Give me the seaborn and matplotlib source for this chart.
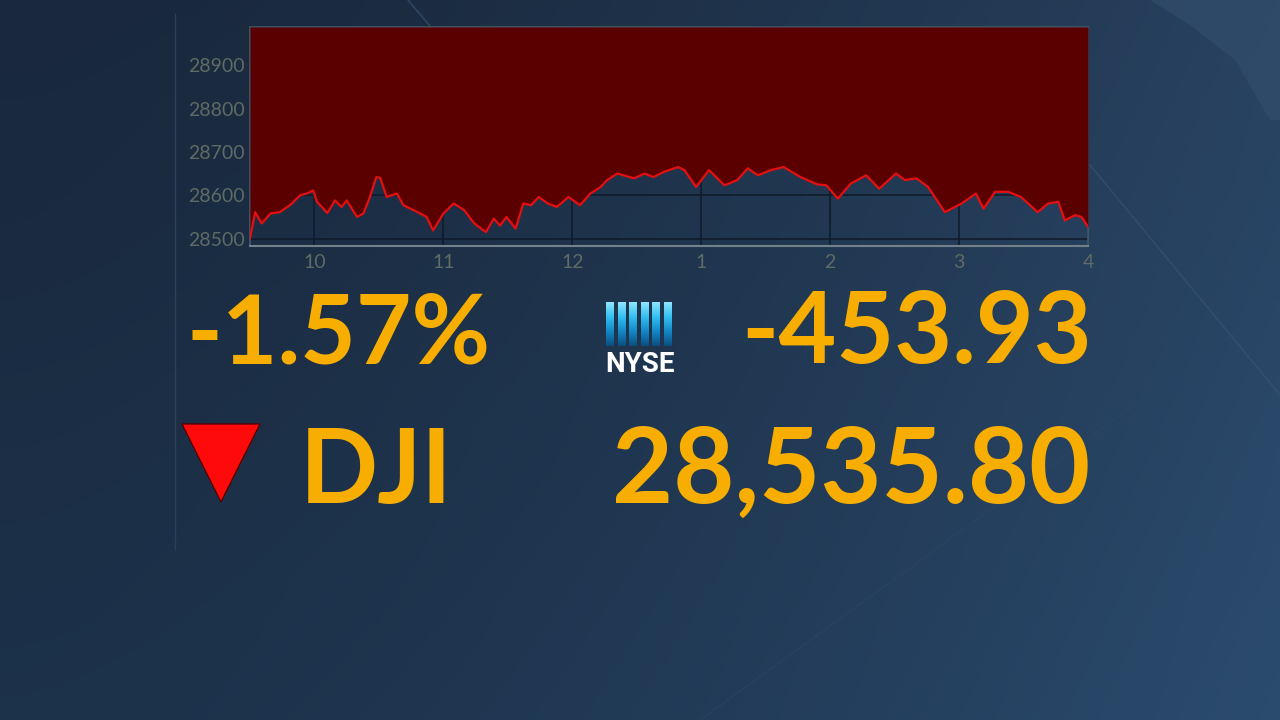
import numpy as np
import pandas as pd
import matplotlib
matplotlib.use('Agg')
import matplotlib.pyplot as plt
import seaborn as sns
from matplotlib.patches import Polygon
from matplotlib.colors import LinearSegmentedColormap

# intraday DJI, hours since midnight (9.5 = 9:30 open, 16 = 4pm close)
hours = [9.50, 9.54, 9.59, 9.66, 9.73, 9.81, 9.89, 9.94, 9.99, 10.02, 10.10, 10.16,
         10.21, 10.25, 10.33, 10.38, 10.43, 10.48, 10.51, 10.56, 10.64, 10.69, 10.80,
         10.87, 10.92, 11.00, 11.08, 11.16, 11.24, 11.33, 11.39, 11.44, 11.49, 11.56,
         11.62, 11.68, 11.74, 11.81, 11.88, 11.97, 12.06, 12.14, 12.22, 12.27, 12.35,
         12.48, 12.56, 12.63, 12.71, 12.82, 12.87, 12.96, 13.06, 13.18, 13.28, 13.36,
         13.44, 13.54, 13.64, 13.77, 13.90, 13.97, 14.06, 14.16, 14.28, 14.38, 14.51,
         14.58, 14.67, 14.76, 14.89, 15.02, 15.13, 15.19, 15.28, 15.38, 15.48, 15.61,
         15.69, 15.77, 15.82, 15.90, 15.95, 16.00]
dji = [28500, 28561, 28535, 28558, 28561, 28577, 28600, 28604, 28611, 28585, 28559, 28588,
       28573, 28588, 28550, 28558, 28596, 28642, 28640, 28596, 28604, 28577, 28561,
       28550, 28519, 28558, 28581, 28566, 28535, 28515, 28546, 28530, 28550, 28523,
       28581, 28577, 28596, 28581, 28573, 28596, 28577, 28604, 28619, 28635, 28650,
       28639, 28650, 28642, 28654, 28665, 28658, 28619, 28658, 28623, 28635, 28662,
       28646, 28658, 28665, 28642, 28625, 28623, 28592, 28627, 28646, 28615, 28650,
       28635, 28639, 28619, 28561, 28581, 28604, 28569, 28608, 28608, 28596, 28561,
       28581, 28585, 28542, 28554, 28550, 28527]

hour_ticks = [10, 11, 12, 13, 14, 15, 16]
hour_labels = ['10', '11', '12', '1', '2', '3', '4']
price_ticks = [28500, 28600, 28700, 28800, 28900]

pct_change = '-1.57%'
pt_change = '-453.93'
index_name = 'DJI'
last_value = '28,535.80'
exchange = 'NYSE'

df = pd.DataFrame({'hour': hours, 'dji': dji})

sns.set_theme(style='dark')
plt.rcParams['font.family'] = ['Lato', 'DejaVu Sans']

orange = '#f7ae00'
y_top, y_bot = 28988, 28483

fig = plt.figure(figsize=(12.8, 7.2), dpi=100)

# backdrop: dark navy gradient
bg = fig.add_axes([0, 0, 1, 1], zorder=0)
yy, xx = np.mgrid[0:1:180j, 0:1:320j]
tl = np.array([25, 40, 60]) / 255
rt = np.array([40, 66, 96]) / 255
bt = np.array([29, 52, 78]) / 255
img = tl + (rt - tl) * (xx[..., None] ** 1.6) + (bt - tl) * (yy[..., None] * 0.8)
bg.imshow(np.clip(img, 0, 1), extent=(0, 1280, 720, 0), aspect='auto')
bg.set_xlim(0, 1280)
bg.set_ylim(720, 0)
bg.plot([175, 175], [14, 550], color='#2b405a', lw=1)
bg.plot([1090, 1280], [165, 395], color='#3b5878', lw=1.2, alpha=0.5)
bg.plot([700, 1280], [720, 300], color='#2f4a68', lw=1, alpha=0.4)
bg.plot([408, 430], [0, 26], color='#3a5676', lw=1.2, alpha=0.6)
bg.add_patch(Polygon([(1150, 0), (1280, 0), (1280, 120), (1270, 120), (1235, 60), (1190, 25)],
                     fc='#34506f', ec='none', alpha=0.6))
bg.axis('off')

# intraday chart
ax = fig.add_axes([250 / 1280, 1 - 246 / 720, 838 / 1280, 219 / 720], zorder=2)
ax.set_facecolor('none')
ax.fill_between(df['hour'], df['dji'], y_top, color='#5a0000', lw=0, zorder=3)
sns.lineplot(data=df, x='hour', y='dji', color='#e41010', lw=1.6, ax=ax, zorder=4)
ax.set_xlim(9.5, 16)
ax.set_ylim(y_bot, y_top)
ax.set_xticks(hour_ticks)
ax.set_xticklabels(hour_labels)
ax.set_yticks(price_ticks)
ax.set_xlabel('')
ax.set_ylabel('')
ax.grid(True, color='#0f1a29', lw=1.1)
ax.set_axisbelow(True)
ax.tick_params(length=0, labelsize=14, colors='#5f6b64')
ax.tick_params(axis='y', pad=4)
ax.tick_params(axis='x', pad=6)
for side in ['left', 'top', 'right']:
    ax.spines[side].set_visible(True)
    ax.spines[side].set_color('#4a5766')
    ax.spines[side].set_linewidth(1.2)
ax.spines['bottom'].set_visible(True)
ax.spines['bottom'].set_color('#75818a')
ax.spines['bottom'].set_linewidth(1.5)

# big numbers overlay
ov = fig.add_axes([0, 0, 1, 1], zorder=5)
ov.set_facecolor('none')

logo_cmap = LinearSegmentedColormap.from_list('nyse', ['#8ee6ff', '#33bff0', '#1488c8', '#0b4f80'])
grad = np.linspace(0, 1, 60)[:, None]
for i in range(6):
    x0 = 606 + i * 11.6
    ov.imshow(grad, cmap=logo_cmap, extent=(x0, x0 + 7.8, 346, 302), origin='upper', aspect='auto')
ov.text(640, 372, exchange, ha='center', va='baseline', fontsize=20, fontweight='bold',
        color='white', family=['Roboto', 'DejaVu Sans'])

ov.text(187, 363, pct_change, ha='left', va='baseline', fontsize=69, fontweight='bold', color=orange)
ov.text(1092, 363, pt_change, ha='right', va='baseline', fontsize=72, fontweight='bold', color=orange)
ov.text(300, 503, index_name, ha='left', va='baseline', fontsize=74, fontweight='bold', color=orange)
ov.text(1090, 503, last_value, ha='right', va='baseline', fontsize=76, fontweight='bold', color=orange)
ov.add_patch(Polygon([(182, 424), (260, 424), (221, 502)], fc='#ff0a0a', ec='#5a0000', lw=1))

ov.set_xlim(0, 1280)
ov.set_ylim(720, 0)
ov.axis('off')

fig.savefig('out.png', dpi=100)
